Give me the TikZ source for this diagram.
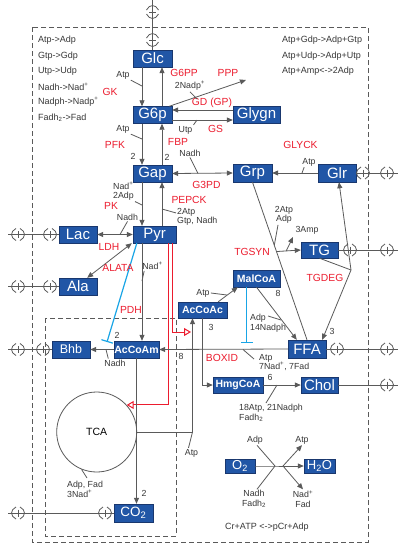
\documentclass[tikz,border=0pt]{standalone}
\usepackage{fontspec}
\setmainfont{Liberation Sans}
\usetikzlibrary{arrows.meta,calc}

\definecolor{boxblue}{RGB}{33,86,166}
\definecolor{boxedge}{RGB}{25,55,110}
\definecolor{enzred}{RGB}{236,28,46}
\definecolor{inhblue}{RGB}{25,165,230}
\definecolor{linegray}{RGB}{90,90,90}
\definecolor{txtgray}{RGB}{55,55,55}

\tikzset{
  rx/.style={draw=linegray, line width=0.8pt},
  arr/.style={rx, -{Triangle[length=6pt,width=5pt]}},
  darr/.style={rx, {Triangle[length=6pt,width=5pt]}-{Triangle[length=6pt,width=5pt]}},
  inh/.style={draw=inhblue, line width=1.2pt, -{Bar[width=12pt,line width=1.2pt]}},
  pdhred/.style={draw=enzred, line width=1pt, -{Triangle[open,length=7pt,width=8pt]}},
  frame/.style={draw=linegray, line width=0.7pt, dash pattern=on 5pt off 3pt},
  xchg/.pic={
    \draw[rx] (-2,-6) .. controls (-8,-3) and (-8,3) .. (-2,6);
    \draw[rx] (2,-6) .. controls (8,-3) and (8,3) .. (2,6);
    \draw[rx] (0,-3.5) -- (0,3.5);
  }
}

\begin{document}
\begin{tikzpicture}[x=1pt, y=-1pt,
  every node/.style={text=txtgray, inner sep=1pt, font=\fontsize{8.8}{9.5}\selectfont},
  box/.style={draw=boxedge, fill=boxblue, text=white, inner sep=0pt,
    minimum width=39pt, minimum height=17pt, font=\fontsize{15}{15}\selectfont},
  sbox/.style={box, font=\fontsize{10.5}{11}\selectfont\bfseries},
  enz/.style={text=enzred, font=\fontsize{10.3}{11}\selectfont},
  note/.style={anchor=west, font=\fontsize{9}{10}\selectfont},
  lbl/.style={align=left}]
  \fill[white] (0,0) rectangle (400,544);
  \useasboundingbox (0,0) rectangle (400,544);

  % compartments
  \draw[frame] (32,27) rectangle (368,542);
  \draw[frame] (45,318) rectangle (176,536);

  % metabolites
  \node[box] (glc) at (152.5,58.5) {Glc};
  \node[box] (g6p) at (152.5,115) {G6p};
  \node[box, minimum width=47pt] (glygn) at (256.5,115) {Glygn};
  \node[box] (gap) at (152.5,173.5) {Gap};
  \node[box, minimum height=18pt] (grp) at (252.5,173) {Grp};
  \node[box, minimum width=38pt, minimum height=18pt] (glr) at (337,173) {Glr};
  \node[box, minimum width=43pt] (pyr) at (154.5,234.5) {Pyr};
  \node[box, minimum width=38pt] (lac) at (78,234.5) {Lac};
  \node[box, minimum width=38pt] (ala) at (78,286.5) {Ala};
  \node[box, minimum width=37pt, minimum height=16pt] (tg) at (319.5,250) {TG};
  \node[sbox, minimum width=47pt] (malcoa) at (256.5,278.5) {MalCoA};
  \node[sbox, minimum width=49pt, minimum height=16pt] (accoac) at (202.5,310) {AcCoAc};
  \node[box, minimum width=38pt, font=\fontsize{12.5}{13}\selectfont] (bhb) at (71,349.5) {Bhb};
  \node[sbox, minimum width=45pt] (accoam) at (136.5,349.5) {AcCoAm};
  \node[box, minimum width=38pt, minimum height=18pt] (ffa) at (307,349) {FFA};
  \node[sbox, minimum width=50pt, minimum height=16pt] (hmgcoa) at (238,385) {HmgCoA};
  \node[box, minimum width=37pt, minimum height=16pt] (chol) at (319.5,385) {Chol};
  \node[box, minimum height=18pt, font=\fontsize{13.5}{14}\selectfont] (co2) at (133.5,513) {CO\textsubscript{2}};
  \node[box, minimum width=30pt, minimum height=14pt, font=\fontsize{13}{13}\selectfont] (o2) at (240,466) {O\textsubscript{2}};
  \node[box, minimum width=31pt, minimum height=14pt, font=\fontsize{13}{13}\selectfont] (h2o) at (319.5,466) {H\textsubscript{2}O};
  \node[circle, draw=linegray, line width=0.8pt, minimum size=80pt, inner sep=0pt,
    text=black, font=\fontsize{10.5}{11}\selectfont] (tca) at (96.7,432) {TCA};

  % helper coordinates
  \coordinate (cl) at (142,0);
  \coordinate (cr) at (162,0);
  \coordinate (ru) at (0,110);
  \coordinate (rd) at (0,120);
  \coordinate (cac) at (192.5,0);
  \coordinate (ppp) at (246,80);
  \coordinate (acin) at (191,332);
  \coordinate (pdhbar) at (107,342);
  \coordinate (boxbar) at (246.5,343);
  \coordinate (tdj) at (351,270);
  \coordinate (amp) at (293,237);
  \coordinate (oj1) at (275,466);
  \coordinate (oj2) at (283,466);
  \coordinate (glcx) at (152.5,0);
  \coordinate (lacx) at (8,234.5);
  \coordinate (alax) at (8,286.5);
  \coordinate (bhbx) at (8,349.5);
  \coordinate (co2x) at (8,513);
  \coordinate (glrx) at (398,173);
  \coordinate (tgx) at (398,250);
  \coordinate (ffax) at (398,349);
  \coordinate (cholx) at (398,385);

  % notes
  \node[note] at (37,40) {Atp->Adp};
  \node[note] at (37,55.7) {Gtp->Gdp};
  \node[note] at (37,71) {Utp->Udp};
  \node[note] at (37,86.7) {Nadh->Nad\textsuperscript{+}};
  \node[note] at (37,102) {Nadph->Nadp\textsuperscript{+}};
  \node[note] at (37,117.3) {Fadh\textsubscript{2}->Fad};
  \node[note] at (281,40) {Atp+Gdp->Adp+Gtp};
  \node[note] at (281,55.7) {Atp+Udp->Adp+Utp};
  \node[note] at (281,71) {Atp+Amp<->2Adp};
  \node[note] at (224,526.7) {Cr+ATP <->pCr+Adp};

  % glycolysis / gluconeogenesis
  \draw[arr] (cl |- glc.south) -- (cl |- g6p.north);
  \draw[arr] (cr |- g6p.north) -- (cr |- glc.south);
  \draw[arr] (cl |- g6p.south) -- (cl |- gap.north);
  \draw[arr] (cr |- gap.north) -- (cr |- g6p.south);
  \draw[arr] (cl |- gap.south) -- (cl |- pyr.north);
  \draw[arr] (cr |- pyr.north) -- (cr |- gap.south);
  \draw[arr] ([xshift=-3pt]g6p.north east) -- (ppp);
  \draw[arr] (glygn.west |- ru) -- (g6p.east |- ru);
  \draw[arr] (g6p.east |- rd) -- (glygn.west |- rd);
  \draw[darr] (gap.east) -- (grp.west);
  \draw[arr] (glr.west) -- (grp.east);
  \draw[darr] (pyr.west) -- (lac.east);
  \draw[darr] ([xshift=-1pt]pyr.south west) -- ([xshift=-10pt]ala.north east);
  \draw[arr] (cl |- pyr.south) -- (cl |- accoam.north);
  \draw[inh] ([xshift=4pt]pyr.south west) -- (pdhbar);
  \draw[pdhred] ([xshift=17.5pt]pyr.south) |- (acin);
  \draw[pdhred] ([xshift=13.5pt]pyr.south) |- (tca.42);

  % acetyl-CoA, TCA
  \draw[arr] (accoam.west) -- (bhb.east);
  \draw[arr] (ffa.west) -- (accoam.east);
  \draw[arr] (accoam.south) -- (accoam.south |- co2.north);
  \draw[arr] (tca.east) -| (cac |- accoac.south);
  \draw[arr] (accoac.south) |- (hmgcoa.west);
  \draw[arr] ([xshift=-9pt]accoac.north east) -- ([xshift=5pt]malcoa.south west);
  \draw[arr] (malcoa.south) -- ([xshift=9pt]ffa.north west);
  \draw[inh] ([xshift=-10pt]malcoa.south) -- (boxbar);
  \draw[arr] (hmgcoa.east) -- (chol.west);

  % triglycerides
  \draw[rx] (grp.south) -- (ffa.north);
  \coordinate (tgj) at ($(grp.south)!0.44!(ffa.north)$);
  \draw[arr] (tgj) -- (tg.west);
  \coordinate (ampj) at ($(tgj)!0.4!(tg.west)$);
  \draw[arr] (ampj) -- (amp);
  \draw[rx] (tg.south) -- (tdj);
  \draw[arr] (tdj) -- ([xshift=-4pt]ffa.north east);
  \draw[arr] (tdj) -- ([xshift=2pt]glr.south);

  % oxidative phosphorylation
  \node (oadp) at (255,440) {Adp};
  \node[align=center] (onadh) at (254,499) {Nadh\\Fadh\textsubscript{2}};
  \node (oatp) at (302,440) {Atp};
  \node[align=center] (onad) at (303,499) {Nad\textsuperscript{+}\\Fad};
  \draw[rx] (o2.east) -- (oj1) -- (oj2);
  \draw[rx] ([xshift=2pt]oadp.south) -- (oj1);
  \draw[rx] ([xshift=3pt]onadh.north) -- (oj1);
  \draw[arr] (oj2) -- (oatp.south);
  \draw[arr] (oj2) -- (h2o.west);
  \draw[arr] (oj2) -- (onad.north);

  % exchange with the outside
  \draw[rx] (glc.north) -- (glcx);
  \pic[rotate=90] at (152.5,40) {xchg};
  \pic[rotate=90] at (152.5,12) {xchg};
  \draw[rx] (lac.west) -- (lacx);
  \pic at (50,234.5) {xchg};
  \pic at (18,234.5) {xchg};
  \draw[rx] (ala.west) -- (alax);
  \pic at (50,286.5) {xchg};
  \pic at (18,286.5) {xchg};
  \draw[rx] (bhb.west) -- (bhbx);
  \pic at (43,349.5) {xchg};
  \pic at (18,349.5) {xchg};
  \draw[rx] (co2.west) -- (co2x);
  \pic at (105,513) {xchg};
  \pic at (18,513) {xchg};
  \draw[rx] (glr.east) -- (glrx);
  \pic at (363,173) {xchg};
  \pic at (387,173) {xchg};
  \draw[rx] (tg.east) -- (tgx);
  \pic at (350,250) {xchg};
  \pic at (387,250) {xchg};
  \draw[rx] (ffa.east) -- (ffax);
  \pic at (337,349) {xchg};
  \pic at (387,349) {xchg};
  \draw[rx] (chol.east) -- (cholx);
  \pic at (387,385) {xchg};

  % enzymes
  \node[enz] at (110,92) {GK};
  \node[enz] at (184,73) {G6PP};
  \node[enz] at (228,73) {PPP};
  \node[enz] at (212,103) {GD (GP)};
  \node[enz] at (215.5,129) {GS};
  \node[enz] at (115,145) {PFK};
  \node[enz] at (178,142) {FBP};
  \node[enz] at (206.5,185) {G3PD};
  \node[enz] at (111,206) {PK};
  \node[enz] at (189,200) {PEPCK};
  \node[enz] at (109,247) {LDH};
  \node[enz] at (118,268) {ALATA};
  \node[enz] at (131,310) {PDH};
  \node[enz] at (300.5,145) {GLYCK};
  \node[enz] at (252,252) {TGSYN};
  \node[enz] at (325,278) {TGDEG};
  \node[enz] at (222,358) {BOXID};

  % cofactors
  \node (atpgk) at (123,75) {Atp};
  \node (nadpgd) at (190,86) {2Nadp\textsuperscript{+}};
  \node (utpgs) at (185.5,130) {Utp};
  \node (atppfk) at (123,129) {Atp};
  \node (nadhg3) at (190,153) {Nadh};
  \node[lbl] (nadpk) at (123.5,191) {Nad\textsuperscript{+}\\2Adp};
  \node (nadhldh) at (127.5,217) {Nadh};
  \node[lbl, anchor=north west] (pepck) at (176,207) {2Atp\\Gtp, Nadh};
  \node (nadpdh) at (152.5,266) {Nad\textsuperscript{+}};
  \node (nadhbhb) at (115,363) {Nadh};
  \node[lbl, anchor=north west] (boxlbl) at (258,353) {Atp\\7Nad\textsuperscript{+}, 7Fad};
  \node[lbl, anchor=north west] (faslbl) at (249,313) {Adp\\14Nadph};
  \node (atpmal) at (203,293) {Atp};
  \node (atptca) at (191.5,453) {Atp};
  \node[lbl, anchor=north west] (tcalbl) at (66,480) {Adp, Fad\\3Nad\textsuperscript{+}};
  \node[align=center] (tgslbl) at (284,215) {2Atp\\Adp};
  \node (amplbl) at (307,230) {3Amp};
  \node (atpgly) at (309,162) {Atp};
  \node[lbl, anchor=north west] (hmglbl) at (238,403) {18Atp, 21Nadph\\Fadh\textsubscript{2}};

  % stoichiometry
  \node at (133,156) {2};
  \node at (167,157) {2};
  \node at (117,335) {2};
  \node at (181,356) {8};
  \node at (211,327) {3};
  \node at (278,293) {8};
  \node at (332,331) {3};
  \node at (270,377) {6};
  \node at (144,493) {2};

  % cofactor ticks
  \coordinate (kgk) at (142,86);
  \coordinate (kgd) at (197,99);
  \coordinate (kgs) at (197,120);
  \coordinate (kpfk) at (142,139);
  \coordinate (kg3) at (198,173.5);
  \coordinate (kpk) at (142,205);
  \coordinate (kldh) at (120,234.5);
  \coordinate (kpep) at (162,209);
  \coordinate (kpdh) at (142,281);
  \coordinate (kbhb) at (106,349.5);
  \coordinate (kbox) at (243,349.5);
  \coordinate (kbox0) at (254,359);
  \coordinate (kfas0) at (268,316);
  \coordinate (kfas) at (281,320);
  \coordinate (kmal) at (227,295);
  \coordinate (ktca) at (192.5,432);
  \coordinate (kcyc0) at (87,478);
  \coordinate (ktgs) at ($(grp.south)!0.4!(ffa.north)$);
  \coordinate (kgly) at (302,173);
  \coordinate (khmg) at (277,385);

  \draw[rx] (atpgk.south east) -- (kgk);
  \draw[rx] (nadpgd.south) -- (kgd);
  \draw[rx] (utpgs.north east) -- (kgs);
  \draw[rx] (atppfk.south east) -- (kpfk);
  \draw[rx] (nadhg3.south) -- (kg3);
  \draw[rx] (nadpk.south east) -- (kpk);
  \draw[rx] (nadhldh.south) -- (kldh);
  \draw[rx] (kpep) -- ([yshift=4pt]pepck.west);
  \draw[rx] ([xshift=3pt]nadpdh.south west) -- (kpdh);
  \draw[rx] (kbhb) -- ([xshift=5pt]nadhbhb.north west);
  \draw[rx] (kbox) -- (kbox0);
  \draw[rx] (kfas0) -- (kfas);
  \draw[rx] (atpmal.east) -- (kmal);
  \draw[rx] ([xshift=-3pt]atptca.north) -- (ktca);
  \draw[rx] (tca.248) -- (kcyc0);
  \draw[rx] ([xshift=-6pt]tgslbl.south) -- (ktgs);
  \draw[rx] (kgly) -- ([xshift=3pt]atpgly.south west);
  \draw[rx] ([xshift=28pt]hmglbl.north west) -- (khmg);
\end{tikzpicture}
\end{document}
